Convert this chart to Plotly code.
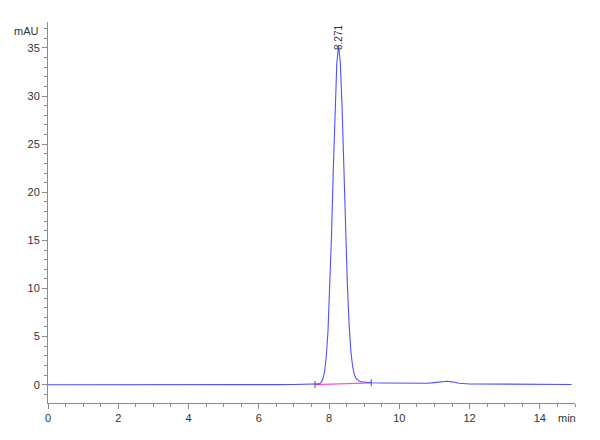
"""
Chromatogram (UV trace, mAU vs min) with one main peak at 8.271 min.
"""
import plotly.graph_objects as go

# retention time (min) and absorbance (mAU)
time_min = [0.0, 0.5, 1.0, 1.5, 2.0, 2.5, 3.0, 3.5, 4.0, 4.5, 5.0, 5.5, 6.0, 6.5, 7.0,
            7.3, 7.57, 7.62, 7.67, 7.72, 7.77, 7.82, 7.87, 7.92, 7.97, 8.02, 8.07, 8.12,
            8.17, 8.22, 8.27, 8.32, 8.37, 8.42, 8.47, 8.52, 8.57, 8.62, 8.67, 8.72,
            8.77, 8.82, 8.87, 8.92, 9.0, 9.2, 9.5, 10.0, 10.5, 10.8, 11.0, 11.2, 11.35,
            11.5, 11.7, 12.0, 12.5, 13.0, 13.5, 14.0, 14.5, 14.9]
absorbance = [0.0, 0.0, 0.0, 0.0, -0.02, -0.05, -0.06, -0.05, -0.03, -0.02, -0.01, 0.0, 0.0, 0.01, 0.02,
              0.02, 0.02, 0.03, 0.05, 0.09, 0.22, 0.56, 1.3, 2.9, 5.6, 9.8, 15.6, 22.3,
              28.7, 33.4, 35.2, 33.5, 28.9, 22.6, 16.2, 10.5, 6.3, 3.5, 1.9, 1.05,
              0.65, 0.45, 0.35, 0.3, 0.25, 0.2, 0.18, 0.15, 0.12, 0.15, 0.22, 0.32, 0.36,
              0.3, 0.15, 0.08, 0.06, 0.05, 0.04, 0.03, 0.03, 0.03]

# integration baseline under the peak
baseline_t = [7.6, 9.2]
baseline_y = [0.02, 0.2]

peak_rt = 8.271
peak_label = "8.271"
peak_label_y = 36.1

x_ticks = [0, 2, 4, 6, 8, 10, 12, 14]
y_ticks = [0, 5, 10, 15, 20, 25, 30, 35]

axis_grey = "#8c8c8c"
text_col = "#333333"
font_family = "Liberation Sans, Arial, sans-serif"

fig = go.Figure()

fig.add_trace(go.Scatter(
    x=baseline_t, y=baseline_y, mode="lines",
    line=dict(color="#ff4fd8", width=1.2),
    hoverinfo="skip", showlegend=False
))

# small integration markers at baseline ends
fig.add_trace(go.Scatter(
    x=baseline_t, y=baseline_y, mode="markers",
    marker=dict(symbol="line-ns", size=5, line=dict(color="#555555", width=1)),
    hoverinfo="skip", showlegend=False
))

fig.add_trace(go.Scatter(
    x=time_min, y=absorbance, mode="lines",
    line=dict(color="#5050ff", width=1.1),
    showlegend=False
))

fig.add_annotation(
    x=peak_rt, y=peak_label_y, text=peak_label, textangle=-90,
    showarrow=False, font=dict(size=10, color=text_col, family=font_family),
    xanchor="center", yanchor="middle"
)

# axis unit labels
fig.add_annotation(
    x=0, xref="paper", xanchor="right", xshift=-7,
    y=1, yref="paper", yanchor="top", yshift=-1,
    text="mAU", showarrow=False,
    font=dict(size=11, color=text_col, family=font_family)
)
fig.add_annotation(
    x=1, xref="paper", xanchor="right", xshift=3,
    y=0, yref="paper", yanchor="top", yshift=-7,
    text="min", showarrow=False,
    font=dict(size=11, color=text_col, family=font_family)
)

fig.update_xaxes(
    range=[0, 15], tickvals=x_ticks,
    showline=True, linecolor=axis_grey, linewidth=1,
    ticks="outside", ticklen=5, tickcolor=axis_grey,
    minor=dict(dtick=0.5, ticks="outside", ticklen=3, tickcolor=axis_grey),
    showgrid=False, zeroline=False,
    tickfont=dict(size=11, color=text_col, family=font_family)
)
fig.update_yaxes(
    range=[-1.9, 37.7], tickvals=y_ticks,
    showline=True, linecolor=axis_grey, linewidth=1,
    ticks="outside", ticklen=5, tickcolor=axis_grey,
    minor=dict(dtick=1, ticks="outside", ticklen=3, tickcolor=axis_grey),
    showgrid=False, zeroline=False,
    tickfont=dict(size=11, color=text_col, family=font_family)
)

# page body adds an 8px margin, so the figure is a bit smaller than the window
fig.update_layout(
    width=592, height=432,
    margin=dict(l=40, r=25, t=14, b=37),
    plot_bgcolor="white", paper_bgcolor="white",
    showlegend=False
)

fig.write_html("out.html")
